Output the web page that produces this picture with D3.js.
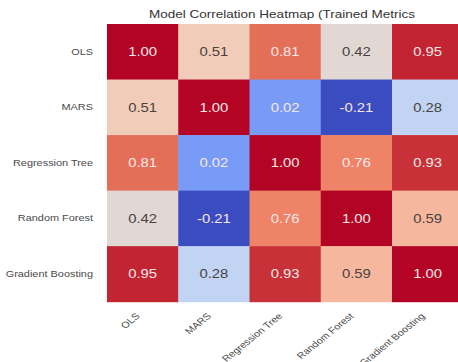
<!DOCTYPE html>
<html>
<head>
<meta charset="utf-8">
<script src="https://cdn.jsdelivr.net/npm/d3@7/dist/d3.min.js"></script>
<style>
  html, body { margin: 0; padding: 0; background: #fff; overflow: hidden; }
  svg { display: block; font-family: "Liberation Sans", Arial, sans-serif; }
</style>
</head>
<body>
<svg id="chart" width="458" height="362"></svg>
<script>
// Model names (rows and columns share the same order)
const models = ["OLS", "MARS", "Regression Tree", "Random Forest", "Gradient Boosting"];

// Correlation values, one array per row
const rowOLS      = [1.00, 0.51, 0.81, 0.42, 0.95];
const rowMARS     = [0.51, 1.00, 0.02, -0.21, 0.28];
const rowTree     = [0.81, 0.02, 1.00, 0.76, 0.93];
const rowForest   = [0.42, -0.21, 0.76, 1.00, 0.59];
const rowBoosting = [0.95, 0.28, 0.93, 0.59, 1.00];
const matrix = [rowOLS, rowMARS, rowTree, rowForest, rowBoosting];

const title = "Model Correlation Heatmap (Trained Metrics";

// coolwarm colormap anchors (0 .. 1 in steps of 0.1)
const coolwarmStops = ["#3b4cc0", "#5a78e4", "#7b9ff9", "#9ebeff", "#c0d4f5", "#dddcdc",
                       "#f2cbb7", "#f7ac8e", "#ee8468", "#d65244", "#b40426"];

// the figure is stretched horizontally, so text glyphs are widened by this factor
const stretch = 1.24;

const svg = d3.select("#chart");

const x = d3.scaleBand().domain(models).range([107, 463.25]).padding(0);
const y = d3.scaleBand().domain(models).range([24, 301.7]).padding(0);

const flat = matrix.flatMap(r => r);
const vmin = d3.min(flat), vmax = d3.max(flat);
const cmap = d3.piecewise(d3.interpolateRgb, coolwarmStops);
const norm = d3.scaleLinear().domain([vmin, vmax]).range([0, 1]).clamp(true);
const color = v => cmap(norm(v));

const cells = [];
matrix.forEach((row, i) => row.forEach((v, j) => cells.push({ r: models[i], c: models[j], v })));

// cells
svg.append("g").selectAll("rect").data(cells).join("rect")
  .attr("x", d => x(d.c))
  .attr("y", d => y(d.r))
  .attr("width", x.bandwidth() + 0.5)
  .attr("height", y.bandwidth() + 0.5)
  .attr("fill", d => color(d.v));

// annotations: light text on dark cells, dark text on light cells
function lum(c) {
  const rgb = d3.rgb(c);
  const f = u => { u /= 255; return u <= 0.03928 ? u / 12.92 : Math.pow((u + 0.055) / 1.055, 2.4); };
  return 0.2126 * f(rgb.r) + 0.7152 * f(rgb.g) + 0.0722 * f(rgb.b);
}
svg.append("g").selectAll("text").data(cells).join("text")
  .attr("transform", d => `translate(${x(d.c) + x.bandwidth() / 2},${y(d.r) + y.bandwidth() / 2}) scale(${stretch},1)`)
  .attr("dy", "0.36em")
  .attr("text-anchor", "middle")
  .attr("font-size", 12)
  .attr("fill", d => lum(color(d.v)) < 0.408 ? "#f7e8e8" : "#4a4242")
  .text(d => d.v.toFixed(2));

// y axis labels
const yAxis = svg.append("g")
  .attr("transform", "translate(107,0)")
  .call(d3.axisLeft(y).tickSize(0).tickPadding(0));
yAxis.select(".domain").remove();
yAxis.selectAll("text")
  .attr("x", 0)
  .attr("transform", `translate(-14,0) scale(${stretch},1)`)
  .attr("font-size", 8.8).attr("fill", "#4a4a4a")
  .attr("font-family", "Liberation Sans, Arial, sans-serif");

// x axis labels, rotated
const xAxis = svg.append("g")
  .attr("transform", "translate(0,301.7)")
  .call(d3.axisBottom(x).tickSize(0).tickPadding(0));
xAxis.select(".domain").remove();
xAxis.selectAll("text")
  .attr("font-size", 8.8).attr("fill", "#4a4a4a")
  .attr("font-family", "Liberation Sans, Arial, sans-serif")
  .attr("text-anchor", "end")
  .attr("y", 0)
  .attr("dy", 0)
  .attr("transform", `translate(-2,15) scale(${stretch},1) rotate(-45)`);

// title
svg.append("text")
  .attr("x", 282)
  .attr("y", 17.5)
  .attr("text-anchor", "middle")
  .attr("font-size", 10.5)
  .attr("textLength", 266)
  .attr("lengthAdjust", "spacingAndGlyphs")
  .attr("fill", "#333")
  .text(title);
</script>
</body>
</html>
